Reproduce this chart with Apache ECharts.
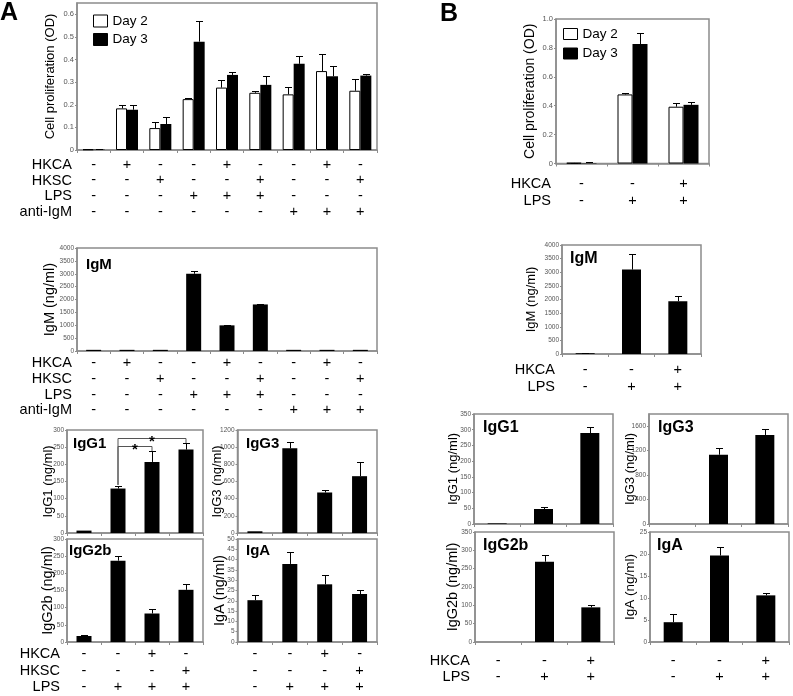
<!DOCTYPE html>
<html><head><meta charset="utf-8">
<script src="https://cdn.jsdelivr.net/npm/echarts@6/dist/echarts.min.js"></script>
<style>html,body{margin:0;padding:0;background:#fff}#c{width:793px;height:696px}</style>
</head><body><div id="c"></div>
<script>
const FONT = '"Liberation Sans", Arial, Helvetica, sans-serif';

// ---- condition tables ----
const aHKCA = ['-','+','-','-','+','-','-','+','-'];
const aHKSC = ['-','-','+','-','-','+','-','-','+'];
const aLPS = ['-','-','-','+','+','+','-','-','-'];
const aAntiIgM = ['-','-','-','-','-','-','+','+','+'];
const a4HKCA = ['-','-','+','-'];
const a4HKSC = ['-','-','-','+'];
const a4LPS = ['-','+','+','+'];
const bHKCA = ['-','-','+'];
const bLPS = ['-','+','+'];

// ---- Panel A data ----
const aProlifDay2 = [0.003, 0.184, 0.097, 0.225, 0.276, 0.253, 0.246, 0.349, 0.262];
const aProlifDay2Err = [0.001, 0.017, 0.027, 0.006, 0.033, 0.006, 0.033, 0.077, 0.053];
const aProlifDay3 = [0.002, 0.178, 0.115, 0.479, 0.332, 0.288, 0.381, 0.326, 0.329];
const aProlifDay3Err = [0.001, 0.022, 0.032, 0.092, 0.015, 0.040, 0.035, 0.046, 0.009];
const aIgM = [45, 45, 45, 3000, 996, 1808, 45, 45, 45];
const aIgMErr = [0, 0, 0, 118, 26, 27, 0, 0, 0];
const aIgG1 = [7, 129.5, 207, 243];
const aIgG1Err = [0, 6.5, 31.5, 19];
const aIgG3 = [20, 986, 472, 662];
const aIgG3Err = [0, 70, 27, 168];
const aIgG2b = [17.5, 237, 83, 152];
const aIgG2bErr = [3.5, 14, 13, 17];
const aIgA = [20.3, 37.9, 28, 23.3];
const aIgAErr = [2.5, 5.7, 4.6, 2.1];
// significance brackets: [fromCat, toCat, bracketLevel, leftFoot, rightFoot]
const aIgG1Brackets = [[1, 2, 253, 140, 239], [1, 3, 276, 140, 262]];

// ---- Panel B data ----
const bProlifDay2 = [0.004, 0.478, 0.393];
const bProlifDay2Err = [0.002, 0.007, 0.023];
const bProlifDay3 = [0.003, 0.827, 0.406];
const bProlifDay3Err = [0.009, 0.078, 0.021];
const bIgM = [30, 3098, 1939];
const bIgMErr = [10, 585, 195];
const bIgG1 = [2, 47.7, 289.5];
const bIgG1Err = [0, 6.3, 19];
const bIgG3 = [0, 1133, 1457];
const bIgG3Err = [0, 110, 99];
const bIgG2b = [0, 219, 94.5];
const bIgG2bErr = [0, 18, 7.5];
const bIgA = [4.5, 19.65, 10.6];
const bIgAErr = [1.8, 1.95, 0.5];
const bIgG2bTickLabels = ['0','50','100','200','250','300','350'];

const chart = echarts.init(document.getElementById('c'), null, {renderer:'canvas', width:793, height:696});
const grids = [], xAxes = [], yAxes = [], series = [];
const FRAME = '#8c8c8c';

function errRender(offset, capW) {
  return function (params, api) {
    const v = api.value(1), t = api.value(2);
    if (!(t > v)) return {type:'group', children:[]};
    const p0 = api.coord([api.value(0), v]);
    const p1 = api.coord([api.value(0), t]);
    const x = Math.round(p0[0] + offset) + 0.5;
    const y1 = Math.round(p1[1]) + 0.5;
    return {type:'group', children:[
      {type:'line', shape:{x1:x, y1:p0[1], x2:x, y2:y1}, style:{stroke:'#000', lineWidth:1}},
      {type:'line', shape:{x1:x - capW/2, y1:y1, x2:x + capW/2, y2:y1}, style:{stroke:'#000', lineWidth:1}}
    ]};
  };
}

function addPanel(p) {
  const gi = grids.length;
  grids.push({left:p.left, top:p.top, width:p.width, height:p.height, show:true,
    borderColor:FRAME, borderWidth:1.5, backgroundColor:'rgba(0,0,0,0)', containLabel:false, outerBoundsMode:'none'});
  const cats = Array.from({length:p.n}, (_, i) => 'c' + i);
  xAxes.push({gridIndex:gi, type:'category', data:cats, boundaryGap:true,
    axisLine:{show:true, lineStyle:{color:FRAME, width:1.5}},
    axisTick:{show:true, length:3, lineStyle:{color:FRAME}},
    axisLabel: p.rows ? {show:true, interval:0, margin:p.labelMargin, lineHeight:p.lineHeight,
      fontSize:14.5, fontFamily:FONT, color:'#000',
      formatter:(v, i) => p.rows.map(r => r[i]).join('\n')} : {show:false},
    splitLine:{show:false}});
  const yl = {fontSize:p.tickSize, fontFamily:FONT, color:'#555', margin:3, formatter:p.fmt};
  if (p.hideMax) yl.showMaxLabel = false;
  yAxes.push({gridIndex:gi, type:'value', min:0, max:p.yMax, interval:p.yInterval,
    name:p.yName, nameLocation:'middle', nameGap:p.nameGap, nameMoveOverlap:false,
    nameTextStyle:{fontSize:p.nameSize, fontFamily:FONT, color:'#000'},
    axisLine:{show:true, lineStyle:{color:FRAME, width:1.5}},
    axisTick:{show:true, length:2, lineStyle:{color:FRAME}},
    axisLabel:yl, splitLine:{show:false}});
  p.groups.forEach(g => {
    series.push({type:'bar', name:g.name, xAxisIndex:gi, yAxisIndex:gi, data:g.data,
      barWidth:g.barWidth, barGap:'0%', itemStyle:g.style, z:2, silent:true, animation:false});
    series.push({type:'custom', name:g.name + ' SD', xAxisIndex:gi, yAxisIndex:gi,
      data:g.data.map((v, i) => [i, v, v + g.err[i]]), encode:{x:0, y:[1, 2]},
      renderItem:errRender(g.offset, 7), z:3, silent:true, animation:false});
  });
  return gi;
}

const WHITE = {color:'#fff', borderColor:'#000', borderWidth:1};
const BLACK = {color:'#000'};
const fmt1 = v => v === 0 ? '0' : v.toFixed(1);
const fmt0 = v => String(Math.round(v));

// Panel A
addPanel({left:77, top:3, width:300, height:147, n:9, yMax:0.65, yInterval:0.1, hideMax:true,
  yName:'Cell proliferation (OD)', nameGap:20, nameSize:13, tickSize:7.5, fmt:fmt1,
  rows:[aHKCA, aHKSC, aLPS, aAntiIgM], labelMargin:7, lineHeight:15.6,
  groups:[{name:'Day 2', data:aProlifDay2, err:aProlifDay2Err, barWidth:11, offset:-5.5, style:WHITE},
          {name:'Day 3', data:aProlifDay3, err:aProlifDay3Err, barWidth:11, offset:5.5, style:BLACK}]});
addPanel({left:77, top:248, width:300, height:103, n:9, yMax:4000, yInterval:500,
  yName:'IgM (ng/ml)', nameGap:20, nameSize:14.5, tickSize:6.5, fmt:fmt0,
  rows:[aHKCA, aHKSC, aLPS, aAntiIgM], labelMargin:4.5, lineHeight:15.6,
  groups:[{name:'A IgM', data:aIgM, err:aIgMErr, barWidth:15, offset:0, style:BLACK}]});
const gIgG1 = addPanel({left:67, top:430, width:136, height:103, n:4, yMax:300, yInterval:50,
  yName:'IgG1 (ng/ml)', nameGap:12, nameSize:13, tickSize:6.5, fmt:fmt0, rows:null,
  groups:[{name:'A IgG1', data:aIgG1, err:aIgG1Err, barWidth:15, offset:0, style:BLACK}]});
addPanel({left:237.5, top:430, width:139.5, height:103, n:4, yMax:1200, yInterval:200,
  yName:'IgG3 (ng/ml)', nameGap:14, nameSize:13, tickSize:6.5, fmt:fmt0, rows:null,
  groups:[{name:'A IgG3', data:aIgG3, err:aIgG3Err, barWidth:15, offset:0, style:BLACK}]});
addPanel({left:67, top:539, width:136, height:103, n:4, yMax:300, yInterval:50,
  yName:'IgG2b (ng/ml)', nameGap:12, nameSize:14.5, tickSize:6.5, fmt:fmt0,
  rows:[a4HKCA, a4HKSC, a4LPS], labelMargin:4, lineHeight:16.5,
  groups:[{name:'A IgG2b', data:aIgG2b, err:aIgG2bErr, barWidth:15, offset:0, style:BLACK}]});
addPanel({left:237.5, top:539, width:139.5, height:103, n:4, yMax:50, yInterval:5,
  yName:'IgA (ng/ml)', nameGap:10, nameSize:14.5, tickSize:6.5, fmt:fmt0,
  rows:[a4HKCA, a4HKSC, a4LPS], labelMargin:4, lineHeight:16.5,
  groups:[{name:'A IgA', data:aIgA, err:aIgAErr, barWidth:15, offset:0, style:BLACK}]});

// Panel B
addPanel({left:556, top:19, width:153, height:144.5, n:3, yMax:1.0, yInterval:0.2,
  yName:'Cell proliferation (OD)', nameGap:19, nameSize:14, tickSize:7.5, fmt:fmt1,
  rows:[bHKCA, bLPS], labelMargin:12.5, lineHeight:16.4,
  groups:[{name:'Day 2', data:bProlifDay2, err:bProlifDay2Err, barWidth:15, offset:-7.5, style:WHITE},
          {name:'Day 3', data:bProlifDay3, err:bProlifDay3Err, barWidth:15, offset:7.5, style:BLACK}]});
addPanel({left:562, top:245, width:139, height:109, n:3, yMax:4000, yInterval:500,
  yName:'IgM (ng/ml)', nameGap:24, nameSize:13, tickSize:6.5, fmt:fmt0,
  rows:[bHKCA, bLPS], labelMargin:7.5, lineHeight:16.7,
  groups:[{name:'B IgM', data:bIgM, err:bIgMErr, barWidth:19, offset:0, style:BLACK}]});
addPanel({left:474, top:414, width:139, height:110, n:3, yMax:350, yInterval:50,
  yName:'IgG1 (ng/ml)', nameGap:14, nameSize:13, tickSize:6.5, fmt:fmt0, rows:null,
  groups:[{name:'B IgG1', data:bIgG1, err:bIgG1Err, barWidth:19, offset:0, style:BLACK}]});
addPanel({left:649, top:414, width:139, height:110, n:3, yMax:1800, yInterval:400, hideMax:true,
  yName:'IgG3 (ng/ml)', nameGap:12, nameSize:13, tickSize:6.5, fmt:fmt0, rows:null,
  groups:[{name:'B IgG3', data:bIgG3, err:bIgG3Err, barWidth:19, offset:0, style:BLACK}]});
addPanel({left:475, top:532, width:139, height:110, n:3, yMax:300, yInterval:50,
  yName:'IgG2b (ng/ml)', nameGap:15, nameSize:14.5, tickSize:6.5,
  fmt:v => bIgG2bTickLabels[Math.round(v / 50)],
  rows:[bHKCA, bLPS], labelMargin:10.7, lineHeight:16,
  groups:[{name:'B IgG2b', data:bIgG2b, err:bIgG2bErr, barWidth:19, offset:0, style:BLACK}]});
addPanel({left:650, top:532, width:139, height:110, n:3, yMax:25, yInterval:5,
  yName:'IgA (ng/ml)', nameGap:13, nameSize:13.5, tickSize:6.5, fmt:fmt0,
  rows:[bHKCA, bLPS], labelMargin:10.7, lineHeight:16,
  groups:[{name:'B IgA', data:bIgA, err:bIgAErr, barWidth:19, offset:0, style:BLACK}]});

// significance brackets on A IgG1
series.push({type:'custom', name:'sig', xAxisIndex:gIgG1, yAxisIndex:gIgG1, data:aIgG1Brackets,
  encode:{x:[0, 1], y:[2, 3, 4]}, z:4, silent:true, animation:false,
  renderItem:(params, api) => {
    const a = api.value(0), b = api.value(1), lv = api.value(2);
    const pl = api.coord([a, lv]), pr = api.coord([b, lv]);
    const fl = api.coord([a, api.value(3)]), fr = api.coord([b, api.value(4)]);
    const y = Math.round(pl[1]) + 0.5;
    return {type:'group', children:[
      {type:'polyline', shape:{points:[[fl[0], fl[1]], [fl[0], y], [pr[0], y], [fr[0], fr[1]]]},
        style:{stroke:'#555', lineWidth:1, fill:null}},
      {type:'text', x:(pl[0] + pr[0]) / 2, y:y + 3,
        style:{text:'*', align:'center', verticalAlign:'middle', fontSize:15, fontWeight:'bold', fontFamily:FONT, fill:'#000'}}
    ]};
  }});

function txt(text, x, y, size, align, bold) {
  return {type:'text', x:x, y:y, silent:true,
    style:{text:text, align:align, verticalAlign:'middle', fontSize:size, fontFamily:FONT,
      fontWeight:bold ? 'bold' : 'normal', fill:'#000'}};
}
const graphics = [
  txt('A', 0, 13, 25, 'left', true),
  txt('B', 440, 14, 25, 'left', true),
  txt('HKCA', 72, 165, 14.5, 'right'), txt('HKSC', 72, 181, 14.5, 'right'),
  txt('LPS', 72, 196, 14.5, 'right'), txt('anti-IgM', 72, 211.7, 14.5, 'right'),
  txt('HKCA', 72, 363.3, 14.5, 'right'), txt('HKSC', 72, 379, 14.5, 'right'),
  txt('LPS', 72, 395, 14.5, 'right'), txt('anti-IgM', 72, 410, 14.5, 'right'),
  txt('HKCA', 60, 654.3, 14.5, 'right'), txt('HKSC', 60, 670.7, 14.5, 'right'),
  txt('LPS', 60, 687.3, 14.5, 'right'),
  txt('HKCA', 551, 184.3, 14.5, 'right'), txt('LPS', 551, 200.7, 14.5, 'right'),
  txt('HKCA', 555, 370, 14.5, 'right'), txt('LPS', 555, 386.7, 14.5, 'right'),
  txt('HKCA', 470, 660.7, 14.5, 'right'), txt('LPS', 470, 676.7, 14.5, 'right'),
  txt('IgM', 86, 265, 15, 'left', true),
  txt('IgG1', 73, 444, 15, 'left', true),
  txt('IgG3', 246, 444, 15, 'left', true),
  txt('IgG2b', 69, 551, 15, 'left', true),
  txt('IgA', 246, 551, 15, 'left', true),
  txt('IgM', 570, 259, 16, 'left', true),
  txt('IgG1', 483, 428, 16, 'left', true),
  txt('IgG3', 658, 428, 16, 'left', true),
  txt('IgG2b', 483, 546, 16, 'left', true),
  txt('IgA', 657, 546, 16, 'left', true)
];

const legendData = [
  {name:'Day 2', itemStyle:{color:'#fff', borderColor:'#000', borderWidth:1}},
  {name:'Day 3', itemStyle:{color:'#000', borderColor:'#000', borderWidth:1}}
];
const legendBase = {orient:'vertical', icon:'rect', padding:0, selectedMode:false, data:legendData,
  textStyle:{fontSize:13.5, fontFamily:FONT, color:'#000', lineHeight:12}};

chart.setOption({
  animation:false,
  backgroundColor:'#fff',
  grid:grids, xAxis:xAxes, yAxis:yAxes, series:series,
  legend:[
    Object.assign({}, legendBase, {left:93, top:14, itemWidth:14, itemHeight:12, itemGap:4.5}),
    Object.assign({}, legendBase, {left:563, top:27, itemWidth:14, itemHeight:11, itemGap:5.5})
  ],
  graphic:graphics
});
</script>
</body></html>
